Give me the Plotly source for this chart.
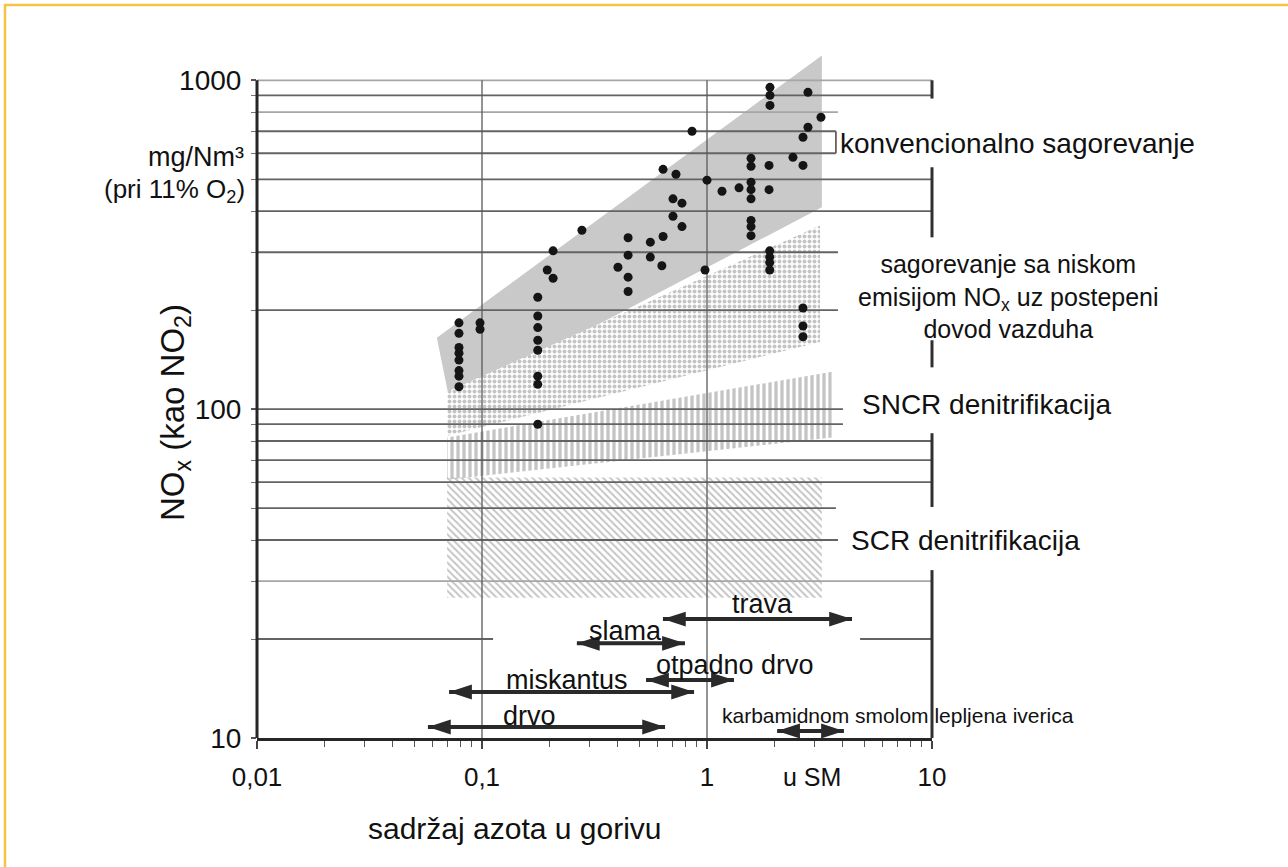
import numpy as np
import plotly.graph_objects as go

# ---------------------------------------------------------------------------
# Data
# ---------------------------------------------------------------------------
# Fuel nitrogen content (% in dry matter) and measured NOx (mg/Nm3 at 11 % O2)
fuel_n = [0.079, 0.079, 0.079, 0.079, 0.079, 0.079, 0.079, 0.079,
          0.098, 0.098,
          0.177, 0.177, 0.177, 0.177, 0.177, 0.177, 0.177, 0.177,
          0.195, 0.207, 0.207, 0.278,
          0.402, 0.446, 0.446, 0.446, 0.446,
          0.56, 0.56, 0.63, 0.638,
          0.706, 0.774, 0.706, 0.774,
          0.638, 0.728, 0.858, 0.98, 1.0, 1.166, 1.388,
          1.569, 1.569, 1.569, 1.569, 1.569, 1.569, 1.569, 1.569,
          1.887, 1.887,
          1.9, 1.9, 1.9, 1.9,
          1.905, 1.905, 1.905,
          2.81, 3.21, 2.81, 2.671, 2.41, 2.671,
          2.671, 2.671, 2.671]
nox_mg = [183, 170, 154, 148, 141, 131, 126, 117,
          183, 175,
          219, 192, 177, 162, 151, 126, 119, 90,
          265, 250, 303, 350,
          270, 332, 294, 252, 228,
          322, 290, 273, 335,
          436, 423, 386, 359,
          536, 518, 700, 265, 497, 460, 471,
          579, 548, 490, 465, 436, 375, 359, 337,
          551, 465,
          303, 290, 279, 265,
          952, 900, 839,
          919, 772, 720, 671, 583, 551,
          203, 179, 166]

# Emission bands (fuel N %, NOx mg/Nm3)
conv_n = [0.063, 3.24, 3.24, 0.072]
conv_nox = [165, 1190, 411, 105]
lownox_n = [0.07, 3.18, 3.18, 0.07]
lownox_nox = [113, 362, 160, 83]
sncr_n = [0.07, 3.59, 3.59, 0.07]
sncr_nox = [82, 130, 82, 61]
scr_n = [0.07, 3.24, 3.24, 0.07]
scr_nox = [62, 62, 26.7, 26.7]

# Typical fuel nitrogen ranges
fuels = ["trava", "slama", "otpadno drvo", "miskantus", "drvo",
         "karbamidnom smolom lepljena iverica"]
fuel_lo = [0.637, 0.264, 0.536, 0.0714, 0.0575, 2.05]
fuel_hi = [4.41, 0.798, 1.318, 0.876, 0.651, 4.06]
fuel_row = [23.0, 19.4, 15.0, 13.8, 10.8, 10.5]

# Axis ticks
x_ticks = [0.01, 0.1, 1, 10]
x_ticktext = ["0,01", "0,1", "1", "10"]
y_ticks = [10, 100, 1000]
y_ticktext = ["10", "100", "1000"]
minor_x = [m * d for d in (0.01, 0.1, 1) for m in range(2, 10)]
minor_y = [m * d for d in (10, 100) for m in range(2, 10)]

# ---------------------------------------------------------------------------
# Layout geometry
# ---------------------------------------------------------------------------
W, H = 1288, 867
ML, MR, MT, MB = 257, 356, 54, 129
PW, PH = W - ML - MR, H - MT - MB
X_RANGE = [-2.0, 1.0]
Y_RANGE = [1.0, 3.08]
FONT = "Liberation Sans, Arial, sans-serif"
INK = "#111111"
CLEAR = "rgba(0,0,0,0)"


def px_x(p):
    return (p - ML) / PW


def px_y(p):
    return (H - MB - p) / PH


def paper_y(v):
    return (np.log10(v) - Y_RANGE[0]) / (Y_RANGE[1] - Y_RANGE[0])


fig = go.Figure()


def band(xs, ys, fillcolor=CLEAR, pattern=None):
    kw = dict(fillcolor=fillcolor)
    if pattern:
        kw["fillpattern"] = pattern
    fig.add_trace(go.Scatter(x=xs + [xs[0]], y=ys + [ys[0]], mode="lines",
                             fill="toself", line=dict(width=0, color=CLEAR),
                             hoverinfo="skip", showlegend=False, **kw))


band(conv_n, conv_nox, fillcolor="#c9c9c9")
band(lownox_n, lownox_nox, fillcolor="white",
     pattern=dict(shape=".", fgcolor="#8a8a8a", bgcolor="white",
                  size=5, solidity=0.5))
band(sncr_n, sncr_nox,
     pattern=dict(shape="|", fgcolor="#8a8a8a", bgcolor=CLEAR,
                  size=6, solidity=0.55))
band(scr_n, scr_nox,
     pattern=dict(shape="\\", fgcolor="#8a8a8a", bgcolor=CLEAR,
                  size=5, solidity=0.4))


def segments(pairs, color, width):
    xs, ys = [], []
    for (x0, y0, x1, y1) in pairs:
        xs += [x0, x1, None]
        ys += [y0, y1, None]
    fig.add_trace(go.Scatter(x=xs, y=ys, mode="lines",
                             line=dict(color=color, width=width),
                             hoverinfo="skip", showlegend=False))


# horizontal grid lines, some stopping short of the frame to leave room for labels
grid_vals = [1000, 900, 800, 700, 600, 500, 400, 300, 200, 100, 90, 80, 70, 60, 50, 40, 30]
grid_end = [10, 10, 3.82, 3.74, 3.74, 10, 10, 3.82, 3.82, 4.02, 4.02, 10, 10, 10, 3.74, 3.82, 10]
light_lines = {1000, 800, 30}
dark = [(0.01, v, e, v) for v, e in zip(grid_vals, grid_end) if v not in light_lines]
dark += [(0.01, 20, 0.112, 20), (4.79, 20, 10, 20)]
dark += [(3.74, 700, 3.74, 600)]
light = [(0.01, v, e, v) for v, e in zip(grid_vals, grid_end) if v in light_lines]
segments(light, "#a6a6a6", 1.8)
segments(dark, "#636363", 1.8)
segments([(0.1, 10, 0.1, 1000), (1, 10, 1, 1000)], "#5a5a5a", 1.3)

# measurements
fig.add_trace(go.Scatter(x=fuel_n, y=nox_mg, mode="markers",
                         marker=dict(size=9, color="#151515"),
                         hoverinfo="skip", showlegend=False))

# fuel nitrogen ranges as double-headed arrows
for lo, hi, row in zip(fuel_lo, fuel_hi, fuel_row):
    fig.add_trace(go.Scatter(x=[lo, hi], y=[row, row], mode="lines",
                             line=dict(color="#2a2a2a", width=4),
                             hoverinfo="skip", showlegend=False))
    fig.add_trace(go.Scatter(x=[lo, hi], y=[row, row], mode="markers",
                             marker=dict(symbol="arrow", angle=[-90, 90], size=24,
                                         color="#2a2a2a", line=dict(width=0)),
                             hoverinfo="skip", showlegend=False))

shapes = []
# left axis line from 10 to 1000
shapes.append(dict(type="line", xref="paper", yref="paper", x0=0, x1=0,
                   y0=paper_y(10), y1=paper_y(1000),
                   line=dict(color="#262626", width=3)))
# right-hand frame, drawn in pieces
for a, b in [(1000, 880), (544, 333), (162, 134), (84.5, 50.4), (32.4, 10)]:
    shapes.append(dict(type="line", xref="paper", yref="paper", x0=1, x1=1,
                       y0=paper_y(a), y1=paper_y(b),
                       line=dict(color="#303030", width=3)))
# page frame
shapes.append(dict(type="rect", xref="paper", yref="paper",
                   x0=px_x(5), x1=px_x(1340), y0=px_y(940), y1=px_y(5),
                   line=dict(color="#f5c446", width=2.5), fillcolor=CLEAR))

ann = []


def label(text, x, y, size, xanchor="center", angle=0):
    ann.append(dict(text=text, x=px_x(x), y=px_y(y), xref="paper", yref="paper",
                    showarrow=False, xanchor=xanchor, yanchor="middle",
                    textangle=angle, font=dict(family=FONT, size=size, color=INK)))


label("NO<sub>x</sub> (kao NO<sub>2</sub>)", 175, 413, 33, angle=-90)
label("mg/Nm³", 246, 157, 27, xanchor="right")
label("(pri 11% O<sub>2</sub>)", 247, 190, 26, xanchor="right")
label("sadržaj azota u gorivu", 515, 828, 30)
label("u SM", 812, 777, 25)

label("konvencionalno sagorevanje", 838, 143, 28, xanchor="left")
label("sagorevanje sa niskom<br>emisijom NO<sub>x</sub> uz postepeni<br>dovod vazduha",
      1008, 296, 25)
label("SNCR denitrifikacija", 986, 405, 28)
label("SCR denitrifikacija", 965, 540, 28)

fuel_label_pos = {"trava": (762, 604), "slama": (625, 631),
                  "otpadno drvo": (735, 665), "miskantus": (567, 680),
                  "drvo": (529, 716),
                  "karbamidnom smolom lepljena iverica": (898, 715)}
for name in fuels:
    lx, ly = fuel_label_pos[name]
    label(name, lx, ly, 21 if len(name) > 20 else 27)

fig.update_layout(
    width=W, height=H,
    margin=dict(l=ML, r=MR, t=MT, b=MB, autoexpand=False),
    paper_bgcolor="white", plot_bgcolor="white",
    showlegend=False,
    shapes=shapes, annotations=ann,
    xaxis=dict(type="log", range=X_RANGE, showgrid=False, zeroline=False,
               showline=True, linecolor="#262626", linewidth=3,
               tickvals=x_ticks, ticktext=x_ticktext,
               ticks="outside", ticklen=8, tickwidth=1.5, tickcolor="#444",
               ticklabelstandoff=6,
               tickfont=dict(family=FONT, size=26, color=INK),
               minor=dict(tickvals=minor_x, ticks="outside", ticklen=6,
                          tickwidth=1.2, tickcolor="#555", showgrid=False)),
    yaxis=dict(type="log", range=Y_RANGE, showgrid=False, zeroline=False,
               showline=False,
               tickvals=y_ticks, ticktext=y_ticktext,
               ticks="outside", ticklen=5, tickwidth=1.5, tickcolor="#555",
               ticklabelstandoff=4,
               tickfont=dict(family=FONT, size=28, color=INK),
               minor=dict(tickvals=minor_y, ticks="outside", ticklen=5,
                          tickwidth=1.2, tickcolor="#777", showgrid=False)),
)

fig.write_html("out.html")
